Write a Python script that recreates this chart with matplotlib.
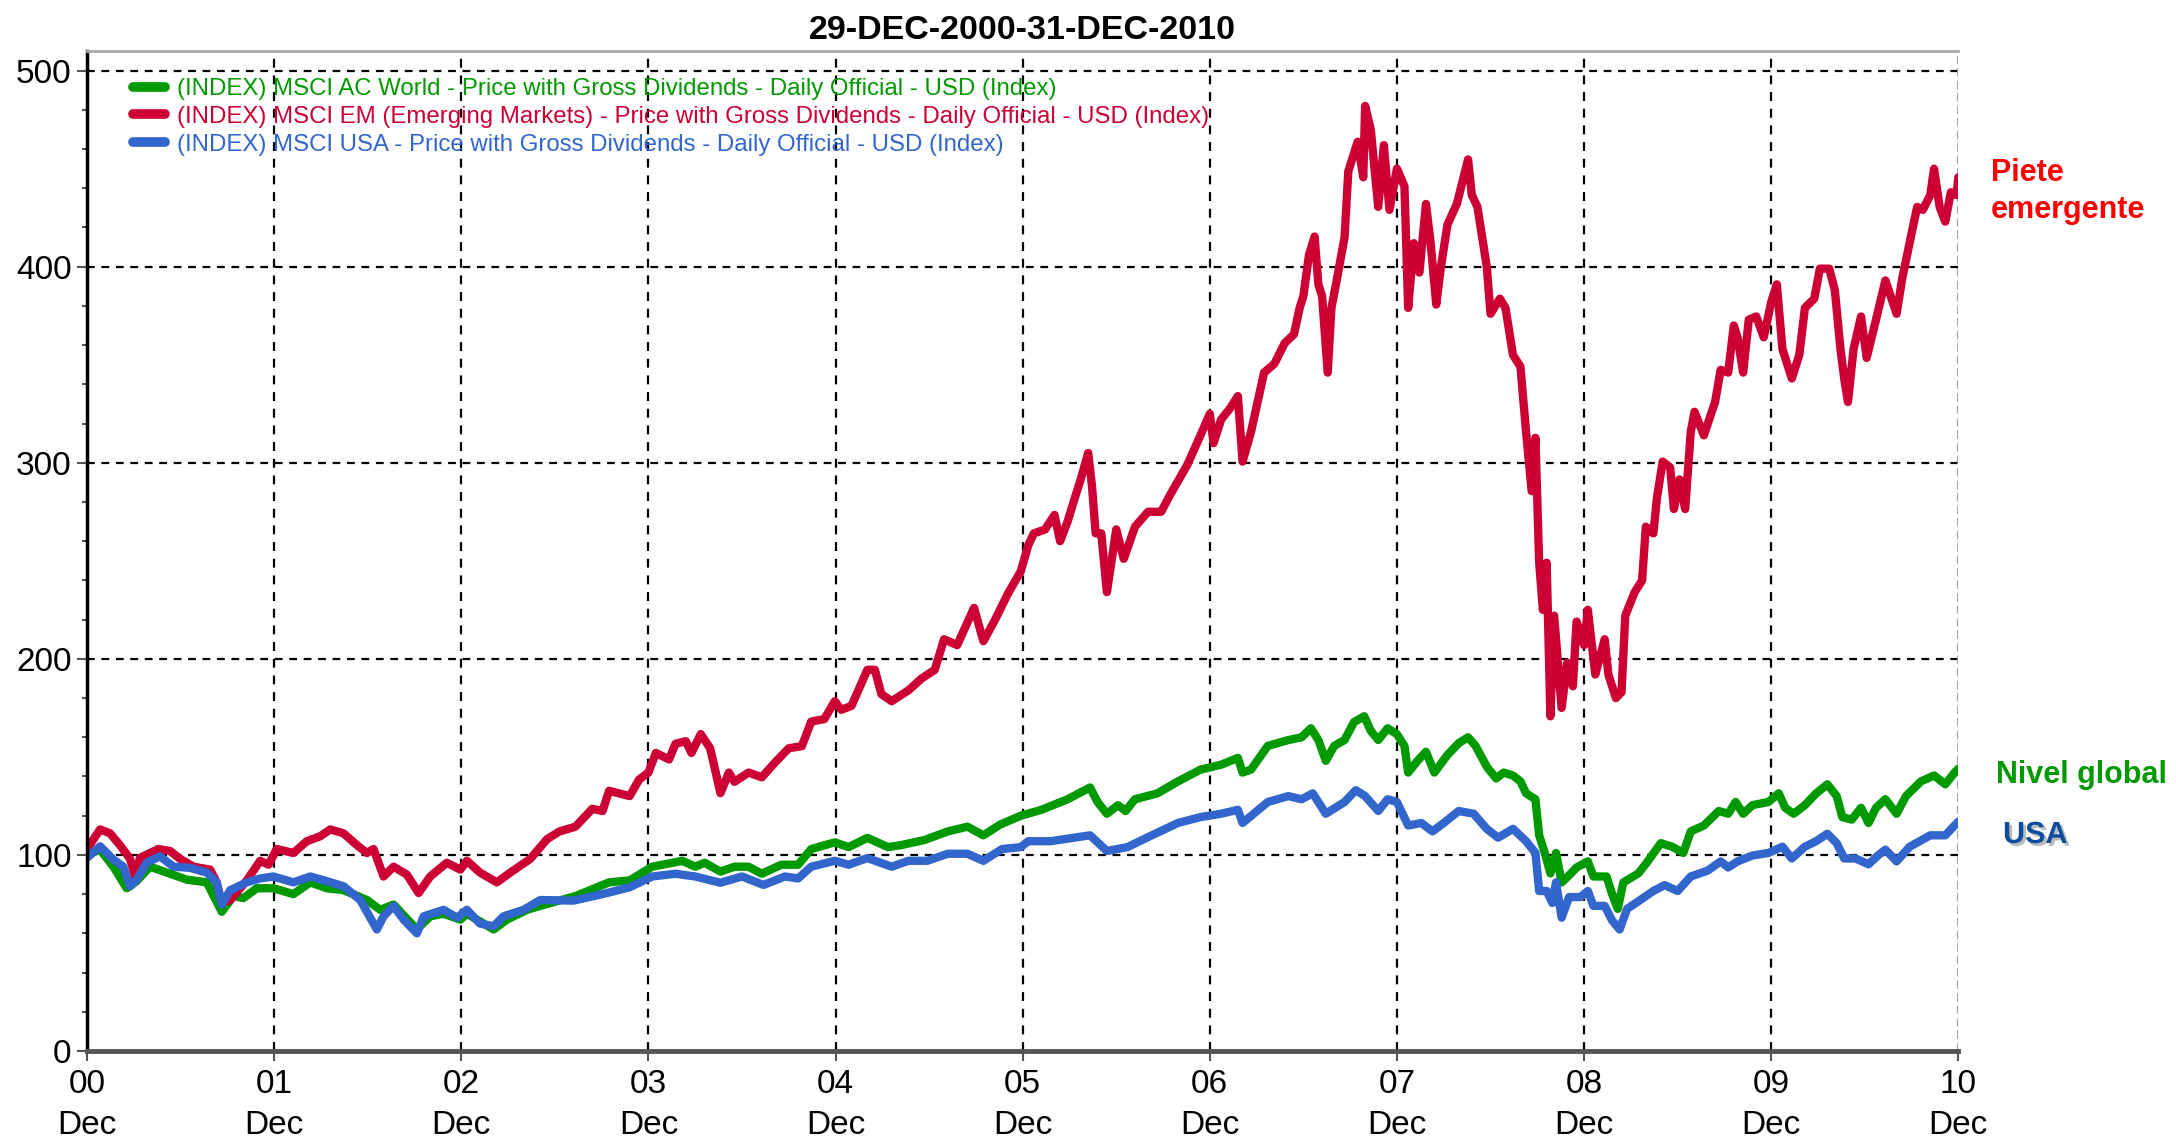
import matplotlib
matplotlib.use("Agg")
import matplotlib.pyplot as plt
import matplotlib.patheffects as pe
from matplotlib.ticker import MultipleLocator

# years since 29-Dec-2000 (index, start = 100)
world_x = [0.0, 0.07, 0.141, 0.212, 0.265, 0.337, 0.426, 0.533, 0.64, 0.72, 0.783, 0.836, 0.907, 0.996,
           1.103, 1.193, 1.281, 1.371, 1.496, 1.567, 1.638, 1.763, 1.834, 1.905, 1.995, 2.03, 2.173, 2.244,
           2.351, 2.436, 2.61, 2.79, 2.90, 3.02, 3.13, 3.18, 3.25, 3.30, 3.385, 3.46, 3.535, 3.606, 3.71,
           3.80, 3.87, 3.996, 4.07, 4.17, 4.28, 4.35, 4.475, 4.60, 4.705, 4.79, 4.88, 4.99, 5.10, 5.24,
           5.36, 5.40, 5.45, 5.51, 5.55, 5.60, 5.72, 5.83, 5.95, 6.06, 6.15, 6.175, 6.22, 6.31, 6.42,
           6.49, 6.54, 6.58, 6.62, 6.665, 6.72, 6.77, 6.825, 6.86, 6.90, 6.95, 7.0, 7.04, 7.06, 7.11,
           7.155, 7.20, 7.27, 7.33, 7.38, 7.42, 7.48, 7.53, 7.57, 7.62, 7.66, 7.69, 7.74, 7.76, 7.79,
           7.82, 7.85, 7.88, 7.93, 7.96, 8.02, 8.05, 8.12, 8.15, 8.18, 8.21, 8.29, 8.34, 8.41, 8.47,
           8.53, 8.57, 8.64, 8.72, 8.77, 8.81, 8.85, 8.90, 8.985, 9.04, 9.075, 9.12, 9.18, 9.24, 9.30,
           9.35, 9.38, 9.43, 9.48, 9.52, 9.56, 9.61, 9.67, 9.72, 9.80, 9.87, 9.93, 9.98, 10.0]
world_y = [100, 102.7, 94, 83, 86.6, 94, 91, 87.4, 86, 71, 79, 78, 83, 83,
           80, 86, 83, 82, 77, 72, 74.7, 62, 68.7, 70, 67, 70, 62, 67,
           72, 74.4, 79, 86, 87, 94, 96, 97, 94, 96, 91.5, 94, 94, 90.4, 95,
           95, 103, 106.4, 104, 108.7, 104, 105, 107.6, 112, 114.4, 110, 115.5, 120, 123, 128.4,
           134.4, 127, 121, 125.4, 122.4, 128.4, 131.4, 137.5, 143.5, 146, 149.5, 142, 143.5, 155.6, 158.6,
           160, 164.6, 158.6, 148, 155.6, 158.6, 167.7, 170.7, 163.3, 158.6, 164.6, 161.6, 155.6, 142, 148,
           152.6, 142, 151, 157, 160, 155.6, 145, 139, 142, 140.5, 137.5, 131.4, 128.4, 110, 101,
           90.6, 101, 86, 90.6, 93.6, 96.7, 89, 89, 80, 72.5, 86, 90.6, 96.7, 106, 104.2,
           101, 112, 115, 122.4, 121, 127, 121, 125.4, 127, 131.4, 124, 121, 125.4, 131.4, 136,
           130, 119.3, 118, 124, 116.3, 124, 128.4, 121, 130, 137.5, 140.5, 136, 142, 144]

em_x = [0.0, 0.07, 0.123, 0.176, 0.23, 0.257, 0.283, 0.381, 0.444, 0.497, 0.569, 0.658, 0.693, 0.72,
        0.765, 0.854, 0.925, 0.97, 1.014, 1.103, 1.175, 1.246, 1.30, 1.371, 1.442, 1.496, 1.531, 1.585,
        1.638, 1.709, 1.772, 1.834, 1.923, 1.995, 2.03, 2.10, 2.19, 2.262, 2.369, 2.458, 2.525, 2.61,
        2.70, 2.755, 2.79, 2.90, 2.95, 3.0, 3.04, 3.11, 3.145, 3.20, 3.23, 3.28, 3.33, 3.385, 3.43,
        3.46, 3.535, 3.606, 3.68, 3.75, 3.82, 3.87, 3.94, 3.996, 4.03, 4.085, 4.17, 4.21, 4.245, 4.30,
        4.39, 4.46, 4.53, 4.58, 4.65, 4.74, 4.79, 4.85, 4.92, 4.99, 5.03, 5.06, 5.12, 5.17, 5.20,
        5.24, 5.28, 5.31, 5.35, 5.37, 5.39, 5.42, 5.45, 5.50, 5.54, 5.60, 5.67, 5.74, 5.79, 5.88,
        5.95, 6.0, 6.02, 6.06, 6.11, 6.15, 6.175, 6.22, 6.29, 6.345, 6.40, 6.45, 6.48, 6.50, 6.53,
        6.56, 6.58, 6.60, 6.63, 6.65, 6.68, 6.72, 6.74, 6.79, 6.82, 6.83, 6.86, 6.90, 6.93, 6.96,
        7.0, 7.04, 7.06, 7.09, 7.12, 7.155, 7.18, 7.21, 7.235, 7.27, 7.32, 7.38, 7.40, 7.43, 7.46,
        7.48, 7.50, 7.55, 7.58, 7.62, 7.66, 7.69, 7.72, 7.74, 7.76, 7.78, 7.80, 7.82, 7.84, 7.88,
        7.91, 7.94, 7.96, 8.0, 8.02, 8.06, 8.11, 8.13, 8.17, 8.20, 8.22, 8.27, 8.31, 8.33, 8.37,
        8.39, 8.42, 8.46, 8.48, 8.51, 8.54, 8.57, 8.59, 8.64, 8.70, 8.73, 8.77, 8.80, 8.82, 8.85,
        8.88, 8.92, 8.96, 9.00, 9.03, 9.06, 9.11, 9.15, 9.18, 9.23, 9.26, 9.31, 9.34, 9.37, 9.39,
        9.41, 9.44, 9.48, 9.51, 9.56, 9.61, 9.67, 9.70, 9.74, 9.78, 9.81, 9.85, 9.87, 9.90, 9.93,
        9.96, 9.99, 10.0]
em_y = [103, 113, 111, 105, 98, 89, 98.5, 103, 102, 98, 94, 92.5, 86, 75.5,
        77, 87, 97, 95, 103, 101, 107, 109.5, 113, 111, 105, 101, 103, 89,
        94, 90, 80.6, 89, 96, 92.5, 97, 91, 86, 91, 98, 108, 112, 114.4,
        123.5, 122.4, 132.7, 130, 138.4, 142, 152, 148.7, 156.7, 158, 152, 161.6, 154.4, 131.5, 142,
        137.3, 142, 139.6, 147.5, 154.4, 155.5, 168, 169.3, 178.4, 174, 176, 194.4, 194.4, 182, 178.4,
        184, 190, 194.4, 210, 207, 226, 209, 219.5, 233, 244.7, 258, 264, 266, 273.4, 260,
        270, 282.5, 291.5, 305, 288.5, 264, 264, 234, 266, 251, 267.4, 275, 275, 284, 299,
        314, 325, 310, 322, 328, 334, 300.6, 315.7, 346, 350.5, 361, 365.6, 379, 385, 406,
        415.4, 391, 385, 346, 379, 394, 415, 448.6, 463.7, 445.6, 482, 470, 430.5, 462, 429,
        450, 441, 379, 412, 397, 432, 412, 380.7, 400, 421.5, 432, 454.7, 436.6, 430.5, 412.4,
        400, 376, 383.7, 379, 355, 349, 315.7, 285.5, 312.7, 249, 225, 249, 170.7, 222, 175,
        198, 186, 219, 207, 225, 192, 210, 192, 180, 183, 222, 234, 240, 267.4, 264,
        282.5, 300.6, 297.6, 276.4, 291.5, 276.4, 315.7, 326, 314, 331, 347.4, 346, 370, 364, 346,
        373, 374.6, 364, 382, 391, 358, 343, 355, 379, 383.7, 399, 399, 388, 358, 343,
        331, 358, 374.6, 353.5, 373, 393, 376, 394, 412.4, 430.5, 429, 436.6, 450, 430.5, 423,
        438, 436.6, 445.6]

usa_x = [0.0, 0.07, 0.141, 0.194, 0.23, 0.266, 0.319, 0.39, 0.462, 0.551, 0.64, 0.693, 0.72, 0.765,
         0.854, 0.925, 0.996, 1.103, 1.193, 1.282, 1.371, 1.46, 1.549, 1.585, 1.638, 1.692, 1.763,
         1.799, 1.906, 1.977, 2.03, 2.10, 2.173, 2.226, 2.333, 2.422, 2.60, 2.755, 2.90, 3.02, 3.145,
         3.25, 3.385, 3.50, 3.615, 3.73, 3.80, 3.87, 3.996, 4.07, 4.17, 4.30, 4.39, 4.49, 4.60, 4.705,
         4.79, 4.89, 4.99, 5.03, 5.15, 5.36, 5.45, 5.56, 5.69, 5.83, 5.95, 6.06, 6.15, 6.175, 6.31,
         6.42, 6.49, 6.55, 6.62, 6.72, 6.78, 6.83, 6.90, 6.95, 7.0, 7.06, 7.13, 7.19, 7.25, 7.33,
         7.41, 7.48, 7.54, 7.62, 7.69, 7.74, 7.76, 7.80, 7.83, 7.85, 7.88, 7.92, 7.98, 8.02, 8.05,
         8.11, 8.15, 8.19, 8.23, 8.30, 8.37, 8.43, 8.50, 8.57, 8.66, 8.73, 8.77, 8.82, 8.90, 8.985,
         9.06, 9.11, 9.18, 9.24, 9.30, 9.35, 9.39, 9.45, 9.52, 9.57, 9.61, 9.67, 9.74, 9.85, 9.93, 10.0]
usa_y = [98.5, 104.4, 97.6, 94, 84, 87.4, 96, 99.3, 94, 93.4, 91, 86, 74.7, 82,
         86, 88, 89, 86, 89, 86.6, 84, 77, 62, 68.7, 74, 67, 60,
         68.7, 72, 68, 72, 65, 63.6, 68.7, 72, 77, 76.7, 80, 83.5, 89, 90.4,
         89, 85.8, 89, 84.7, 89, 88, 94, 97, 95, 98.4, 94, 97, 97, 100.6, 100.6,
         97, 103, 104, 107, 107, 110, 102, 104, 110, 116.3, 119.3, 121, 123, 116.3, 127,
         130, 128.4, 131.4, 121, 127, 133, 130, 122.4, 128.4, 127, 115, 116.3, 112, 116.3, 122.4,
         121, 113.3, 108.8, 113.3, 107, 101, 81.6, 81.6, 75.5, 86, 68, 78.5, 78.5, 81.6, 74,
         74, 66.5, 62, 72.5, 77, 81.6, 84.6, 81.6, 89, 92, 96.7, 93.6, 96.7, 99.7, 101,
         104.2, 98.2, 104.2, 107, 110.8, 106, 98.2, 98.2, 95.2, 99.7, 102.7, 96.7, 104.2, 110, 110, 117]

series_labels = [
    "(INDEX) MSCI AC World - Price with Gross Dividends - Daily Official - USD (Index)",
    "(INDEX) MSCI EM (Emerging Markets) - Price with Gross Dividends - Daily Official - USD (Index)",
    "(INDEX) MSCI USA - Price with Gross Dividends - Daily Official - USD (Index)",
]
series_colors = ["#009900", "#CC0033", "#3366CC"]
year_ticks = list(range(11))
year_labels = ["%02d\nDec" % y for y in year_ticks]
title = "29-DEC-2000-31-DEC-2010"

plt.rcParams["font.family"] = ["Liberation Sans", "DejaVu Sans"]

fig = plt.figure(figsize=(21.76, 11.44), dpi=100)
ax = fig.add_axes([0.03998, 0.0813, 0.86, 0.8741])

for xs, ys, c, lab in zip([world_x, em_x, usa_x], [world_y, em_y, usa_y], series_colors, series_labels):
    ax.plot(xs, ys, color=c, lw=6, label=lab, solid_joinstyle="round", solid_capstyle="round")

ax.set_xlim(0, 10)
ax.set_ylim(0, 510)

# grid
for yv in range(100, 501, 100):
    ax.axhline(yv, color="black", lw=1.6, ls=(0, (3.5, 3)), zorder=0)
for xv in year_ticks[1:-1]:
    ax.axvline(xv, color="black", lw=1.6, ls=(0, (4, 3.5)), zorder=0)
ax.axvline(10, color="#999999", lw=2, ls=(0, (3, 1.5)), zorder=0)

ax.set_xticks(year_ticks)
ax.set_xticklabels(year_labels)
for t in ax.get_xticklabels():
    t.set_linespacing(1.4)
ax.yaxis.set_major_locator(MultipleLocator(100))
ax.yaxis.set_minor_locator(MultipleLocator(20))
ax.tick_params(axis="both", which="major", labelsize=24, color="#555555", width=1.5)
ax.tick_params(axis="x", length=7, pad=6)
ax.tick_params(axis="y", length=7, pad=4)
ax.tick_params(axis="y", which="minor", length=3.5, color="#555555", width=1.5)

ax.spines["right"].set_visible(False)
ax.spines["top"].set_color("#aaaaaa")
ax.spines["top"].set_linewidth(2)
ax.spines["left"].set_linewidth(2.5)
ax.spines["bottom"].set_color("#555555")
ax.spines["bottom"].set_linewidth(3.5)

ax.set_title(title, fontsize=24.5, fontweight="bold", pad=9)

leg = ax.legend(loc="upper left", bbox_to_anchor=(0.018, 0.985), frameon=False,
                prop={"size": 17.3}, labelcolor="linecolor",
                handlelength=1.35, handletextpad=0.5, labelspacing=0.24, borderpad=0)
for h in leg.get_lines():
    h.set_linewidth(7)
    h.set_solid_capstyle("round")

fig.text(0.915, 0.862, "Piete\nemergente", color="#FF0000", fontsize=22, fontweight="bold",
         va="top", linespacing=1.3)
fig.text(0.9173, 0.3156, "Nivel global", color="#009900", fontsize=22, fontweight="bold", va="baseline")
fig.text(0.9205, 0.2631, "USA", color="#0D4C9E", fontsize=22, fontweight="bold", va="baseline",
         path_effects=[pe.SimplePatchShadow(offset=(2, -2), shadow_rgbFace="#bbbbbb", alpha=1), pe.Normal()])

fig.savefig("out.png", dpi=100)
